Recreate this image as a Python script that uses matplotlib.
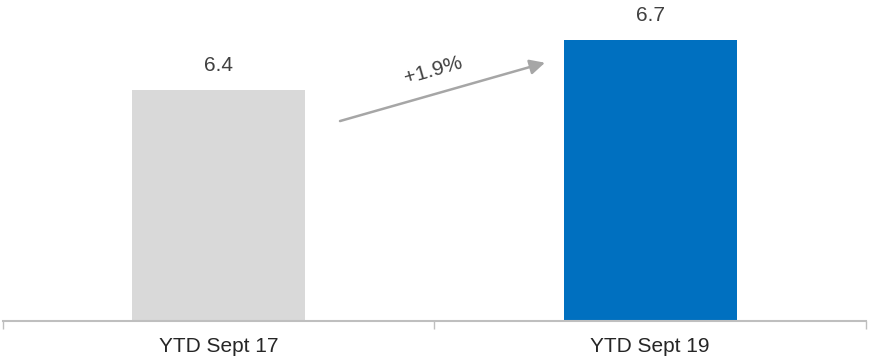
import matplotlib.pyplot as plt

plt.rcParams['font.family'] = ['Liberation Sans', 'DejaVu Sans']

categories = ['YTD Sept 17', 'YTD Sept 19']
values = [6.4, 6.7]
bar_colors = ['#D9D9D9', '#0070C0']
growth_label = '+1.9%'

fig = plt.figure(figsize=(8.7, 3.58), dpi=100)
ax = fig.add_axes([3 / 870, 37.3 / 358, 863 / 870, 323.3 / 358])

x = range(len(categories))
bars = ax.bar(x, values, width=0.40, color=bar_colors, zorder=2)

for b, v in zip(bars, values):
    ax.text(b.get_x() + b.get_width() / 2, v + 0.145, f'{v:.1f}',
            ha='center', va='center', fontsize=15, color='#404040')

ax.set_xlim(-0.5, 1.5)
ax.set_ylim(5.016, 6.956)

# category separators as small ticks on the baseline
ax.set_xticks([-0.5, 0.5, 1.5])
ax.set_xticklabels([])
ax.tick_params(axis='x', length=6, width=1, color='#BFBFBF')
for xi, cat in zip(x, categories):
    ax.text(xi, -0.08, cat, transform=ax.get_xaxis_transform(),
            ha='center', va='center', fontsize=15, color='#262626')

ax.set_yticks([])
for side in ['top', 'right', 'left']:
    ax.spines[side].set_visible(False)
ax.spines['bottom'].set_color('#BFBFBF')
ax.spines['bottom'].set_linewidth(1.5)

# growth arrow between the bars
ax.annotate('', xy=(0.756, 6.564), xytext=(0.281, 6.214),
            arrowprops=dict(arrowstyle='-|>,head_length=0.9,head_width=0.45',
                            color='#A6A6A6', lw=1.8, shrinkA=0, shrinkB=0))
ax.text(0.4965, 6.52, growth_label, rotation=16, rotation_mode='anchor',
        ha='center', va='center', fontsize=15, color='#404040')

fig.savefig('out.png', dpi=100)
